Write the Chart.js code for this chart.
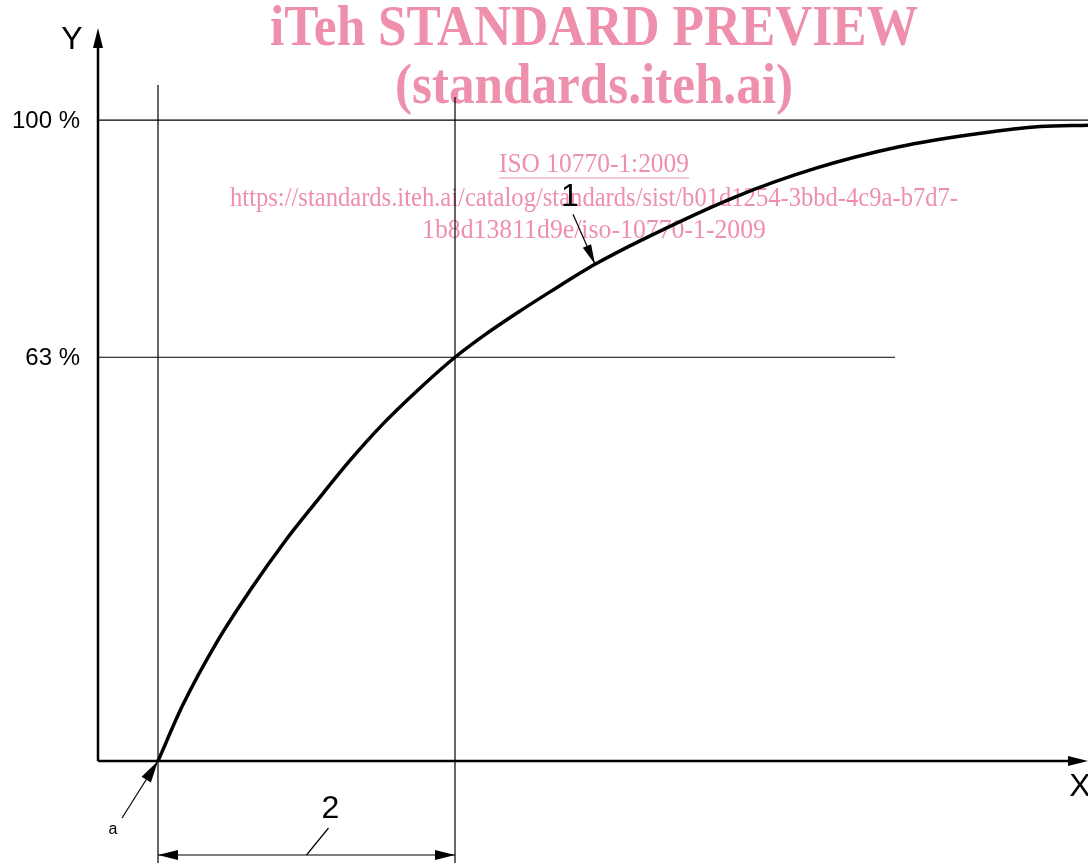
<!DOCTYPE html>
<html>
<head>
<meta charset="utf-8">
<script src="https://cdn.jsdelivr.net/npm/chart.js@4/dist/chart.umd.min.js"></script>
<style>
html,body{margin:0;padding:0;background:#fff;}
#c{display:block;}
</style>
</head>
<body>
<canvas id="c" width="1088" height="863"></canvas>
<script>
// ---- data ----
const curveX = [6, 8.5, 11.9, 15.2, 18.7, 21.9, 25.2, 28.5, 32.0, 35.7, 38.5, 41.9, 45.2, 49.7, 54.5, 63.7, 71.8, 80.0, 88.1, 94.2, 99];
const curveY = [0, 8.8, 18.6, 26.6, 34.3, 40.6, 46.9, 52.6, 57.9, 63.0, 66.3, 69.9, 73.2, 77.5, 81.4, 88.0, 92.5, 95.8, 97.9, 99.0, 99.2];
const refLevels = [100, 63];
const refLabels = ["100 %", "63 %"];
const refLineEnds = [99, 79.7];
const markerX = [6, 35.7];          // start of response (a) and time constant
const markerTop = [105.5, 103.6];
const axisLabels = ["X", "Y"];
const calloutLabels = ["1", "2", "a"];
const watermark = ["iTeh STANDARD PREVIEW", "(standards.iteh.ai)", "ISO 10770-1:2009",
  "https://standards.iteh.ai/catalog/standards/sist/b01d1254-3bbd-4c9a-b7d7-",
  "1b8d13811d9e/iso-10770-1-2009"];

const PINK = 'rgb(238,143,172)';

function arrowHead(ctx, x1, y1, x2, y2, len, hw) {
  const a = Math.atan2(y2 - y1, x2 - x1);
  ctx.beginPath();
  ctx.moveTo(x2, y2);
  ctx.lineTo(x2 - len * Math.cos(a) + hw * Math.sin(a), y2 - len * Math.sin(a) - hw * Math.cos(a));
  ctx.lineTo(x2 - len * Math.cos(a) - hw * Math.sin(a), y2 - len * Math.sin(a) + hw * Math.cos(a));
  ctx.closePath();
  ctx.fill();
}
function line(ctx, x1, y1, x2, y2, w) {
  ctx.lineWidth = w;
  ctx.beginPath(); ctx.moveTo(x1, y1); ctx.lineTo(x2, y2); ctx.stroke();
}
function fitText(ctx, text, cx, cy, font, width) {
  ctx.save();
  ctx.font = font;
  const m = ctx.measureText(text).width;
  const s = width / m;
  ctx.translate(cx, cy);
  ctx.scale(s, 1);
  ctx.textAlign = 'center';
  ctx.textBaseline = 'middle';
  ctx.fillText(text, 0, 0);
  ctx.restore();
  return m * s;
}

const watermarkPlugin = {
  id: 'wm',
  beforeDatasetsDraw(chart) {
    const ctx = chart.ctx;
    ctx.save();
    ctx.fillStyle = PINK;
    ctx.strokeStyle = PINK;
    fitText(ctx, watermark[0], 594, 31, 'bold 56px "Liberation Serif"', 648);
    fitText(ctx, watermark[1], 594, 89, 'bold 56px "Liberation Serif"', 398);
    const w = fitText(ctx, watermark[2], 594, 165, '27px "Liberation Serif"', 190);
    ctx.lineWidth = 1.2;
    ctx.beginPath(); ctx.moveTo(594 - w / 2, 178); ctx.lineTo(594 + w / 2, 178); ctx.stroke();
    fitText(ctx, watermark[3], 594, 199, '27px "Liberation Serif"', 728);
    fitText(ctx, watermark[4], 594, 231, '27px "Liberation Serif"', 344);
    ctx.restore();
  }
};

const annotPlugin = {
  id: 'annot',
  afterDatasetsDraw(chart) {
    const ctx = chart.ctx;
    const xs = chart.scales.x, ys = chart.scales.y;
    const ca = chart.chartArea;
    const X = v => xs.getPixelForValue(v), Y = v => ys.getPixelForValue(v);
    ctx.save();
    ctx.strokeStyle = '#000';
    ctx.fillStyle = '#000';
    const x0 = X(0), y0 = Y(0);
    // reference levels
    refLevels.forEach((lv, i) => {
      line(ctx, x0, Y(lv), X(refLineEnds[i]), Y(lv), 1.2);
      ctx.font = '24px "Liberation Sans"';
      ctx.textAlign = 'right';
      ctx.textBaseline = 'middle';
      ctx.fillText(refLabels[i], x0 - 18, Y(lv) + 1);
    });
    // vertical marker lines
    markerX.forEach((mx, i) => {
      line(ctx, X(mx), Y(markerTop[i]), X(mx), chart.height, 1.2);
    });
    // axes
    line(ctx, x0, y0, x0, ca.top + 18, 2.5);
    arrowHead(ctx, x0, y0, x0, ca.top + 4, 20, 5);
    line(ctx, x0, y0, ca.right - 10, y0, 2.5);
    arrowHead(ctx, x0, y0, ca.right, y0, 20, 5);
    ctx.font = '32px "Liberation Sans"';
    ctx.textAlign = 'center';
    ctx.textBaseline = 'middle';
    ctx.fillText(axisLabels[1], x0 - 26, ca.top + 16);
    ctx.fillText(axisLabels[0], ca.right - 8, y0 + 26);
    // callout 1 on curve
    const tx = X(curveX[13]), ty = Y(curveY[13]);
    line(ctx, tx - 22, ty - 50, tx, ty, 1.2);
    arrowHead(ctx, tx - 22, ty - 50, tx, ty, 20, 4.5);
    ctx.font = '32px "Liberation Sans"';
    ctx.fillText(calloutLabels[0], tx - 25, ty - 67);
    // dimension line 2
    const dy = y0 + 94;
    const d1 = X(markerX[0]), d2 = X(markerX[1]);
    line(ctx, d1, dy, d2, dy, 1.2);
    arrowHead(ctx, d2, dy, d1, dy, 20, 5);
    arrowHead(ctx, d1, dy, d2, dy, 20, 5);
    const mid = (d1 + d2) / 2;
    line(ctx, mid, dy, mid + 22, dy - 27, 1.2);
    ctx.fillText(calloutLabels[1], mid + 24, dy - 46);
    // a
    const ax = X(curveX[0]), ay = Y(curveY[0]);
    line(ctx, ax - 36, ay + 57, ax, ay, 1.2);
    arrowHead(ctx, ax - 36, ay + 57, ax, ay, 22, 5.5);
    ctx.font = '16px "Liberation Sans"';
    ctx.fillText(calloutLabels[2], ax - 45, ay + 69);
    ctx.restore();
  }
};

new Chart(document.getElementById('c'), {
  type: 'scatter',
  data: {
    datasets: [{
      data: curveX.map((x, i) => ({ x, y: curveY[i] })),
      showLine: true,
      borderColor: '#000',
      borderWidth: 3.5,
      pointRadius: 0,
      cubicInterpolationMode: 'monotone',
      clip: false
    }]
  },
  options: {
    responsive: false,
    devicePixelRatio: 1,
    animation: false,
    layout: { padding: { left: 98, right: 0, top: 24, bottom: 102 } },
    scales: {
      x: { type: 'linear', min: 0, max: 99, display: false },
      y: { type: 'linear', min: 0, max: 115, display: false }
    },
    plugins: { legend: { display: false }, tooltip: { enabled: false } }
  },
  plugins: [watermarkPlugin, annotPlugin]
});
</script>
</body>
</html>
